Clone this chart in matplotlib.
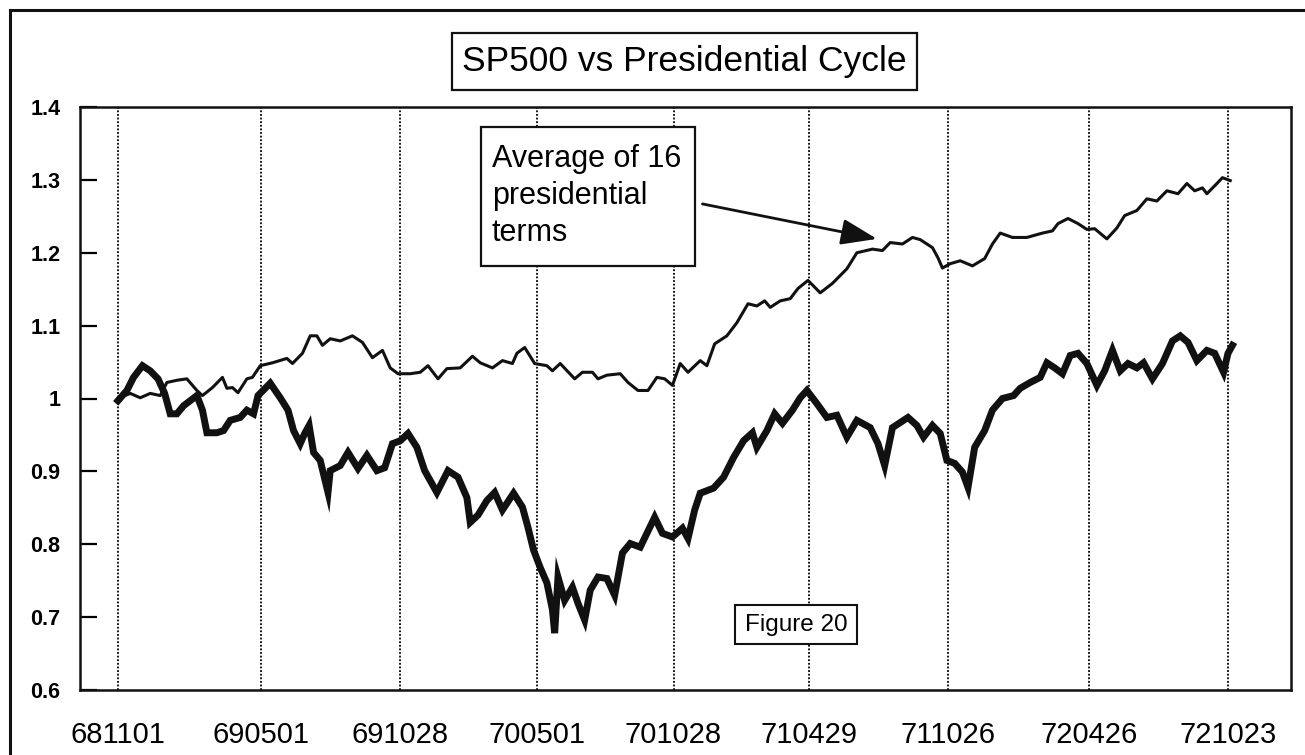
import matplotlib
matplotlib.use("Agg")
import matplotlib.pyplot as plt
from matplotlib.lines import Line2D
from matplotlib.patches import Rectangle

plt.rcParams['font.family'] = ['Liberation Sans', 'DejaVu Sans']

# ---- data (trading-day index from 681101, value relative to start) ----
tick_days = [0, 129, 254, 377, 500, 622, 747, 874, 999]
tick_labels = ["681101", "690501", "691028", "700501", "701028",
               "710429", "711026", "720426", "721023"]

avg_days = [0, 11, 20, 29, 38, 44, 53, 62, 71, 76,
            85, 94, 98, 103, 108, 116, 121, 128, 139, 152,
            157, 166, 173, 179, 184, 191, 200, 211, 220, 229,
            238, 245, 252, 263, 272, 279, 288, 296, 308, 319,
            326, 337, 346, 355, 359, 366, 375, 386, 391, 398,
            411, 418, 427, 432, 440, 452, 459, 468, 477, 485,
            492, 499, 506, 513, 524, 530, 537, 548, 557, 567,
            575, 582, 587, 596, 605, 612, 621, 632, 643, 656,
            665, 679, 688, 695, 706, 715, 722, 733, 738, 742,
            749, 758, 769, 780, 787, 794, 805, 818, 832, 841,
            846, 855, 864, 872, 879, 890, 899, 906, 917, 926,
            935, 944, 954, 962, 969, 976, 980, 989, 994, 1001]
avg_vals = [1.000, 1.007, 1.001, 1.007, 1.004, 1.022, 1.025, 1.027, 1.011, 1.004,
            1.015, 1.029, 1.014, 1.015, 1.008, 1.027, 1.029, 1.045, 1.049, 1.055,
            1.048, 1.062, 1.086, 1.086, 1.073, 1.082, 1.079, 1.086, 1.077, 1.056,
            1.066, 1.042, 1.034, 1.034, 1.036, 1.045, 1.027, 1.041, 1.042, 1.058,
            1.049, 1.042, 1.052, 1.048, 1.062, 1.070, 1.048, 1.045, 1.038, 1.048,
            1.027, 1.036, 1.036, 1.027, 1.032, 1.034, 1.022, 1.011, 1.011, 1.029,
            1.027, 1.018, 1.048, 1.036, 1.052, 1.045, 1.075, 1.086, 1.104, 1.130,
            1.127, 1.134, 1.125, 1.134, 1.137, 1.151, 1.162, 1.145, 1.158, 1.178,
            1.200, 1.205, 1.203, 1.214, 1.212, 1.221, 1.218, 1.207, 1.193, 1.179,
            1.185, 1.189, 1.182, 1.192, 1.212, 1.227, 1.221, 1.221, 1.227, 1.230,
            1.240, 1.247, 1.240, 1.232, 1.233, 1.219, 1.234, 1.251, 1.258, 1.274,
            1.271, 1.285, 1.281, 1.295, 1.285, 1.289, 1.281, 1.295, 1.303, 1.299]

sp_days = [0, 8, 14, 22, 29, 36, 42, 47, 53, 59,
           65, 71, 76, 80, 89, 95, 101, 110, 116, 122,
           126, 137, 146, 153, 158, 164, 168, 172, 176, 182,
           189, 191, 200, 207, 216, 224, 233, 240, 247, 254,
           261, 269, 276, 287, 297, 306, 314, 317, 324,
           332, 339, 346, 356, 364, 369, 374, 380, 386, 391,
           393, 396, 402, 409, 414, 420, 425, 432, 440, 447,
           454, 461, 470, 476, 483, 490, 499, 508, 513, 519,
           524, 536, 545, 554, 563, 571, 575, 584, 591, 598,
           607, 614, 620, 629, 638, 647, 656, 665,
           677, 684, 690, 697, 704, 711, 719, 725, 733, 740,
           746, 753, 760, 765, 771, 780, 787, 796, 806, 812,
           821, 830, 836, 843, 850, 857, 864, 872, 881, 888,
           895, 902, 909, 917, 923, 931, 940, 949, 956, 963,
           971, 980, 987, 995, 999, 1003]
sp_vals = [0.997, 1.011, 1.029, 1.045, 1.038, 1.027, 1.007, 0.979, 0.979, 0.990,
           0.997, 1.004, 0.984, 0.953, 0.953, 0.956, 0.970, 0.974, 0.984, 0.979,
           1.004, 1.021, 1.001, 0.984, 0.956, 0.938, 0.952, 0.963, 0.926, 0.915,
           0.871, 0.901, 0.908, 0.926, 0.904, 0.922, 0.901, 0.905, 0.938, 0.942,
           0.952, 0.933, 0.901, 0.871, 0.901, 0.892, 0.864, 0.830, 0.840,
           0.860, 0.871, 0.847, 0.870, 0.851, 0.823, 0.792, 0.768, 0.747, 0.710,
           0.678, 0.755, 0.723, 0.741, 0.719, 0.696, 0.737, 0.755, 0.753, 0.730,
           0.788, 0.801, 0.796, 0.815, 0.837, 0.815, 0.810, 0.822, 0.808, 0.847,
           0.870, 0.877, 0.892, 0.919, 0.942, 0.953, 0.933, 0.956, 0.979, 0.966,
           0.984, 1.001, 1.011, 0.993, 0.974, 0.977, 0.947, 0.970,
           0.960, 0.938, 0.908, 0.960, 0.967, 0.974, 0.963, 0.947, 0.963, 0.952,
           0.915, 0.911, 0.899, 0.878, 0.933, 0.956, 0.984, 1.000, 1.004, 1.014,
           1.022, 1.029, 1.049, 1.042, 1.034, 1.059, 1.062, 1.048, 1.018, 1.038,
           1.066, 1.038, 1.048, 1.042, 1.049, 1.027, 1.048, 1.079, 1.086, 1.077,
           1.052, 1.066, 1.062, 1.036, 1.062, 1.073]

y_ticks = [0.6, 0.7, 0.8, 0.9, 1.0, 1.1, 1.2, 1.3, 1.4]
y_tick_labels = ["0.6", "0.7", "0.8", "0.9", "1", "1.1", "1.2", "1.3", "1.4"]

W, H = 1305, 755
fig = plt.figure(figsize=(W / 100, H / 100), dpi=100)
fig.patch.set_facecolor("white")

def fx(px):
    return px / W

def fy(py):
    return 1 - py / H

def fig_box(x0, y0, x1, y1, lw=1.6):
    fig.add_artist(Rectangle((fx(x0), fy(y1)), fx(x1) - fx(x0), fy(y0) - fy(y1),
                             transform=fig.transFigure, facecolor="white",
                             edgecolor="#111111", lw=lw, zorder=8))

ax = fig.add_axes([fx(80), fy(690), fx(1291) - fx(80), fy(107) - fy(690)])

ax.plot(sp_days, sp_vals, color="#111111", lw=5.0, solid_joinstyle="miter", zorder=3)
ax.plot(avg_days, avg_vals, color="#111111", lw=2.2, zorder=4)

ax.set_xlim(-34.2, 1055.7)
ax.set_ylim(0.6, 1.4)

ax.set_xticks(tick_days)
ax.set_xticklabels(tick_labels, fontsize=21)
ax.set_yticks(y_ticks)
ax.set_yticklabels(y_tick_labels, fontsize=15.5, fontweight="bold")

ax.tick_params(axis="x", length=0, pad=22)
ax.tick_params(axis="y", direction="in", length=12, width=1.6, pad=14)

ax.grid(axis="x", linestyle=(0, (1, 1)), color="black", lw=1.3)
ax.grid(axis="y", visible=False)

for s in ax.spines.values():
    s.set_linewidth(1.8)
    s.set_color("#111111")

# outer frame (top and left visible)
fig.add_artist(Line2D([fx(10), fx(10)], [fy(10), 0], transform=fig.transFigure,
                      color="#111111", lw=2.2))
fig.add_artist(Line2D([fx(10), 1], [fy(10), fy(10)], transform=fig.transFigure,
                      color="#111111", lw=2.2))

# title in a box
fig_box(452, 33, 917, 90)
fig.text(fx(684), fy(62), "SP500 vs Presidential Cycle", fontsize=25.5,
         ha="center", va="center", zorder=9)

# annotation box
fig_box(481, 127, 695, 266)
fig.text(fx(492), fy(196), "Average of 16\npresidential\nterms", fontsize=22,
         ha="left", va="center", linespacing=1.3, zorder=9)

ax.annotate("", xy=(683, 1.219), xytext=(526, 1.267),
            xycoords="data", textcoords="data",
            arrowprops=dict(arrowstyle="-|>,head_length=2.2,head_width=0.8",
                            color="#111111", lw=2, shrinkA=0, shrinkB=0),
            zorder=6)

fig_box(735, 605, 857, 644, lw=1.5)
fig.text(fx(796), fy(625), "Figure 20", fontsize=17.5, ha="center", va="center",
         zorder=9)

fig.savefig("out.png", dpi=100, facecolor="white")
